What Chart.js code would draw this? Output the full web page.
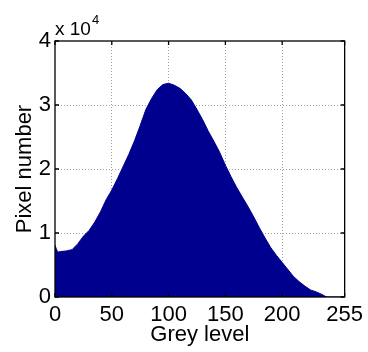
<!DOCTYPE html>
<html>
<head>
<meta charset="utf-8">
<script src="https://cdn.jsdelivr.net/npm/chart.js@4/dist/chart.umd.min.js"></script>
<style>
  body { margin: 0; background: #fff; }
</style>
</head>
<body>
<canvas id="histCanvas" width="368" height="352"></canvas>
<script>
// grey level histogram (counts per grey level)
var greyLevels = [0, 1, 2, 3, 5, 10, 15, 20, 25, 30, 35, 40, 45, 50, 55, 60, 65, 70, 75, 80,
    85, 90, 95, 100, 105, 110, 115, 120, 125, 130, 135, 140, 145, 150, 155, 160, 165, 170,
    175, 180, 185, 190, 195, 200, 205, 210, 215, 220, 225, 230, 235, 238, 240, 255];
var pixelCounts = [8100, 7600, 7150, 7050, 7100, 7200, 7400, 8300, 9500, 10400, 11700, 13300,
    15200, 16700, 18500, 20400, 22300, 24400, 26800, 29300, 31000, 32400, 33200, 33400, 33100,
    32600, 31800, 30800, 29300, 27700, 25900, 24300, 22600, 20600, 18800, 17100, 15600, 14100,
    12500, 10800, 9200, 7700, 6500, 5400, 4300, 3200, 2400, 1700, 1100, 800, 400, 100, 0, 0];

var xTicks = [0, 50, 100, 150, 200, 255];
var yTicks = [0, 10000, 20000, 30000, 40000];
var yScaleExp = 4; // labels are shown in units of 10^4

var fontName = '"Liberation Sans", Arial, sans-serif';
var barColor = '#00008f';

var points = greyLevels.map(function (g, i) {
    return { x: g, y: pixelCounts[i] };
});

// dotted grid only inside the box, not on the edges
function innerGrid(ticks, lo, hi) {
    return function (c) {
        var v = c.tick ? c.tick.value : null;
        return (v === lo || v === hi) ? 'rgba(0,0,0,0)' : '#a0a0a0';
    };
}

// matlab style box: frame, inward tick marks and the x 10^4 note
var boxPlugin = {
    id: 'boxPlugin',
    afterDatasetsDraw: function (chart) {
        var ctx = chart.ctx;
        var a = chart.chartArea;
        var xs = chart.scales.x, ys = chart.scales.y;
        ctx.save();
        ctx.strokeStyle = '#000';
        ctx.lineWidth = 1.3;
        ctx.strokeRect(a.left, a.top, a.right - a.left, a.bottom - a.top);
        ctx.beginPath();
        xTicks.forEach(function (t) {
            var px = xs.getPixelForValue(t);
            ctx.moveTo(px, a.bottom); ctx.lineTo(px, a.bottom - 4);
            ctx.moveTo(px, a.top); ctx.lineTo(px, a.top + 4);
        });
        yTicks.forEach(function (t) {
            var py = ys.getPixelForValue(t);
            ctx.moveTo(a.left, py); ctx.lineTo(a.left + 4, py);
            ctx.moveTo(a.right, py); ctx.lineTo(a.right - 4, py);
        });
        ctx.stroke();

        ctx.fillStyle = '#000';
        ctx.textBaseline = 'alphabetic';
        ctx.textAlign = 'left';
        ctx.font = '19px ' + fontName;
        ctx.fillText('x 10', a.left, a.top - 6);
        var w = ctx.measureText('x 10').width;
        ctx.font = '13px ' + fontName;
        ctx.fillText(String(yScaleExp), a.left + w + 1, a.top - 17);
        ctx.restore();
    }
};

var config = {
    type: 'line',
    data: {
        datasets: [{
            data: points,
            borderColor: barColor,
            backgroundColor: barColor,
            borderWidth: 1,
            pointRadius: 0,
            tension: 0,
            fill: 'origin'
        }]
    },
    options: {
        responsive: false,
        devicePixelRatio: 1,
        animation: false,
        layout: { padding: { top: 41, right: 20, left: 0, bottom: 0 } },
        plugins: {
            legend: { display: false },
            tooltip: { enabled: false }
        },
        scales: {
            x: {
                type: 'linear',
                min: 0,
                max: 255,
                afterBuildTicks: function (scale) {
                    scale.ticks = xTicks.map(function (v) { return { value: v }; });
                },
                afterFit: function (scale) { scale.height = 55; },
                grid: { color: innerGrid(xTicks, 0, 255), drawTicks: false, lineWidth: 1 },
                border: { display: false, dash: [1, 2] },
                ticks: {
                    padding: 5,
                    color: '#000',
                    maxRotation: 0,
                    font: { family: fontName, size: 22 }
                },
                title: {
                    display: true,
                    text: 'Grey level',
                    color: '#000',
                    padding: { top: 0, bottom: 4 },
                    font: { family: fontName, size: 22 }
                }
            },
            y: {
                min: 0,
                max: 40000,
                afterBuildTicks: function (scale) {
                    scale.ticks = yTicks.map(function (v) { return { value: v }; });
                },
                afterFit: function (scale) { scale.width = 55; },
                grid: { color: innerGrid(yTicks, 0, 40000), drawTicks: false, lineWidth: 1 },
                border: { display: false, dash: [1, 2] },
                ticks: {
                    padding: 4,
                    color: '#000',
                    font: { family: fontName, size: 22 },
                    callback: function (v) { return v / Math.pow(10, yScaleExp); }
                },
                title: {
                    display: true,
                    text: 'Pixel number',
                    color: '#000',
                    padding: { top: 12, bottom: 0 },
                    font: { family: fontName, size: 22 }
                }
            }
        }
    },
    plugins: [boxPlugin]
};

window.onload = function () {
    window.histChart = new Chart(document.getElementById('histCanvas'), config);
};
</script>
</body>
</html>
